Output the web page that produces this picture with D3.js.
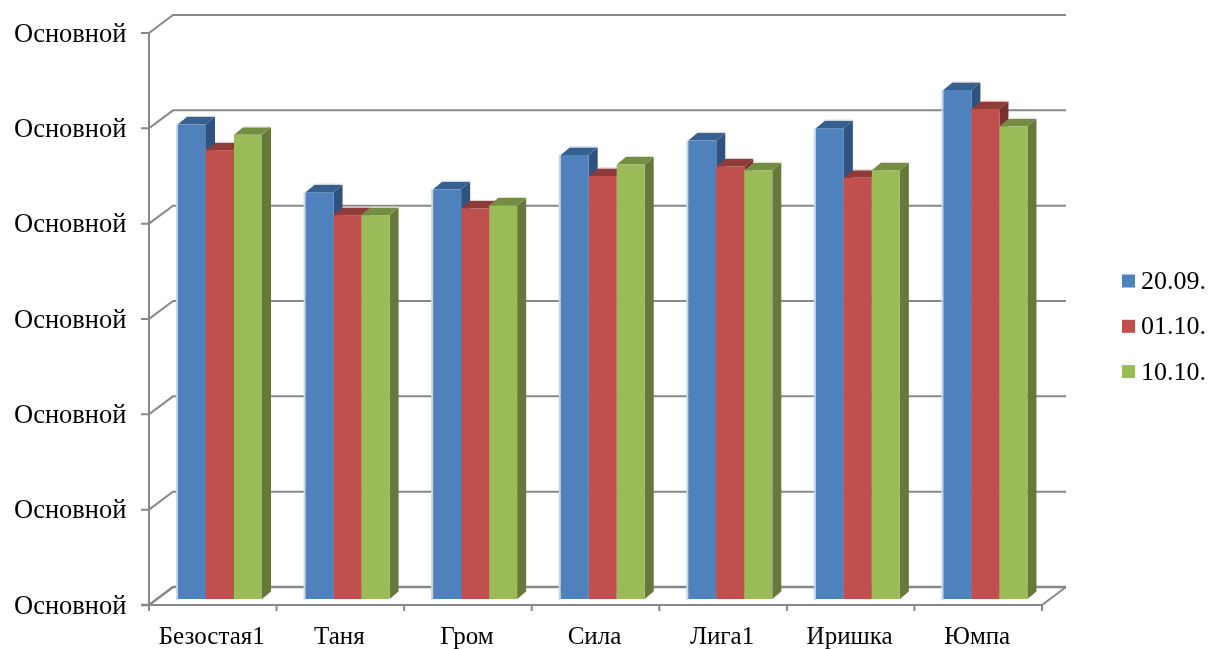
<!DOCTYPE html>
<html><head><meta charset="utf-8">
<script src="https://cdn.jsdelivr.net/npm/d3@7"></script>
<style>html,body{margin:0;padding:0;background:#fff;overflow:hidden}svg{display:block;filter:blur(.5px)}text{font-family:"Liberation Serif",serif;fill:#000}</style>
</head><body><svg id="c" width="1209" height="649"></svg>
<script>
const categories=["Безостая1","Таня","Гром","Сила","Лига1","Иришка","Юмпа"];
const seriesNames=["20.09.","01.10.","10.10."];
const s1=[4.97,4.26,4.29,4.65,4.80,4.93,5.33];
const s2=[4.70,4.02,4.09,4.43,4.53,4.41,5.13];
const s3=[4.86,4.02,4.12,4.55,4.49,4.49,4.95];
const seriesValues=[s1,s2,s3];
const yTicks=[0,1,2,3,4,5,6];
const tickLabel="Основной";
const front=["#4F81BD","#C0504D","#9BBB59"];
const topC=["#36608F","#8F3B39","#748D43"];
const side=["#2F5280","#7A302E","#64793A"];
const halo=["#C9D6E6","#E6C9C8","#DCE5C8"];

const svg=d3.select("#c");
const L=149,R=1042,wallDx=24,wallDy=18,barDx=9,barDy=7.5;
const x=d3.scaleBand().domain(categories).range([L,R]);
const y=d3.scaleLinear().domain([0,6]).range([605,33]);
const barY=d3.scaleLinear().domain([0,6]).range([599,26]);
const inner=d3.scaleBand().domain(seriesNames).range([29,113]);
const G="#888888";
const grid=svg.append("g").attr("stroke",G).attr("stroke-width",2).attr("fill","none");
yTicks.forEach(t=>{
  const yy=y(t);
  grid.append("path").attr("d",`M${L-8},${yy}H${L}L${L+wallDx},${yy-wallDy}H${R+wallDx}`)
    .attr("stroke-width",t===0?2.4:2);
});
grid.append("path").attr("d",`M${L},${y(6)}V${y(0)}H${R}L${R+wallDx},${y(0)-wallDy}`);
[...categories.map(c=>x(c)),R].forEach(px=>{
  grid.append("path").attr("d",`M${px},${y(0)}v6`);
});
svg.append("g").selectAll("text").data(yTicks).join("text")
  .attr("x",126.5).attr("y",d=>y(d)+8.5).attr("text-anchor","end")
  .attr("font-size",26.5).text(tickLabel);
svg.append("g").selectAll("text").data(categories).join("text")
  .attr("x",d=>x(d)+x.bandwidth()/2-1).attr("y",643.5).attr("text-anchor","middle")
  .attr("font-size",25).text(d=>d);
const bars=svg.append("g");
categories.forEach((c,i)=>{
  seriesNames.forEach((s,k)=>{
    const v=seriesValues[k][i];
    const x0=x(c)+inner(s),w=inner.bandwidth(),t=barY(v),b=barY(0);
    const g=bars.append("g");
    if(k===0) g.append("rect").attr("x",x0-2).attr("y",t).attr("width",2).attr("height",b-t+1).attr("fill",halo[0]);
    g.append("path").attr("d",`M${x0+w},${t}l${barDx},${-barDy}V${b-barDy}L${x0+w},${b}Z`).attr("fill",side[k]);
    g.append("path").attr("d",`M${x0},${t}l${barDx},${-barDy}h${w}L${x0+w},${t}Z`).attr("fill",topC[k]);
    g.append("path").attr("d",`M${x0+barDx},${t-barDy-1}h${w}v1h${-w}Z`).attr("fill",halo[k]);
    g.append("rect").attr("x",x0).attr("y",t).attr("width",w).attr("height",b-t).attr("fill",front[k]);
  });
});
const leg=svg.append("g");
seriesNames.forEach((s,k)=>{
  const yy=281+k*45.3;
  leg.append("rect").attr("x",1122).attr("y",yy-6.5).attr("width",13).attr("height",13).attr("fill",front[k]);
  leg.append("text").attr("x",1141).attr("y",yy+8).attr("font-size",26).text(s);
});
</script></body></html>
